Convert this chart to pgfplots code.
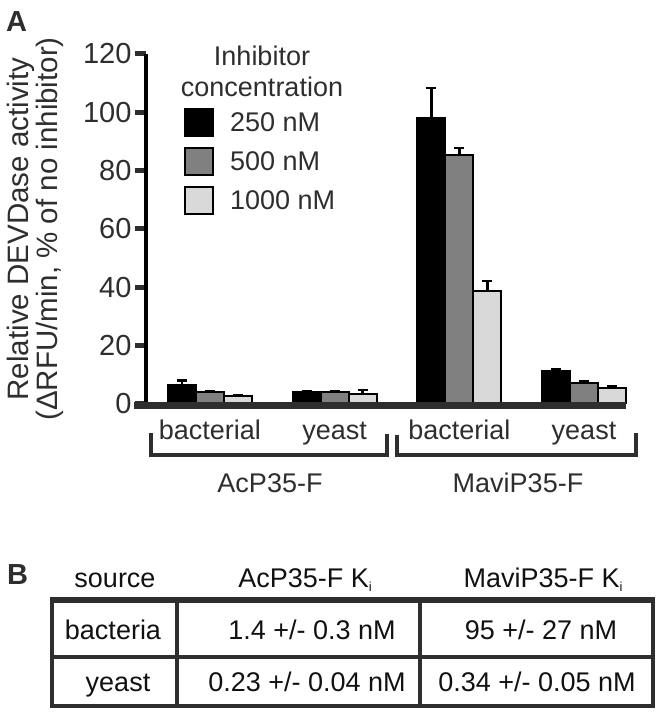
\documentclass[border=0pt]{standalone}
\usepackage{pgfplots}
\pgfplotsset{compat=1.18}
\usepackage{fontspec}
\setmainfont{Liberation Sans}
\definecolor{ink}{HTML}{2E2E2E}
\definecolor{tink}{HTML}{111111}
\definecolor{midgray}{HTML}{808080}
\definecolor{palegray}{HTML}{D9D9D9}
\newcommand{\lbl}{\fontsize{27}{32}\selectfont}
\newcommand{\sub}[1]{\raisebox{-4pt}{\fontsize{13}{13}\selectfont #1}}
\pgfplotsset{
    ebar/.style={forget plot, error bars/.cd, y dir=plus, y explicit,
        error mark=|,
        error bar style={line width=2.5pt, black},
        error mark options={line width=2.5pt, mark size=5pt, black}},
}

\begin{document}
\begin{tikzpicture}[x=1pt,y=1pt,font=\lbl]
\useasboundingbox (0,0) rectangle (661,716);

% panel A
\node[anchor=base west, inner sep=0pt, text=ink, font=\fontsize{29}{32}\selectfont\bfseries] at (6,684) {A};

\begin{axis}[
    at={(146pt,312pt)}, anchor=south west,
    scale only axis, width=482pt, height=350pt,
    xmin=-0.513, xmax=3.353, ymin=0, ymax=120,
    ybar=0pt, bar width=28pt,
    axis x line*=bottom, axis y line*=left,
    x axis line style={draw=none},
    y axis line style={line width=4.5pt, black},
    xtick={0,1,2,3},
    xticklabels={bacterial,yeast,bacterial,yeast},
    x tick style={draw=none},
    xticklabel style={anchor=base, yshift=-25pt},
    ytick={0,20,...,120},
    y tick style={line width=5pt, ink},
    major y tick style={line width=5pt, ink},
    tick align=outside, major tick length=11pt,
    tick label style={font=\lbl, text=ink},
    yticklabel style={font=\fontsize{29}{32}\selectfont},
    /pgf/number format/assume math mode=true,
    ylabel={Relative DEVDase activity\\(ΔRFU/min, \% of no inhibitor)},
    ylabel style={at={(axis description cs:-0.2293,0.5)}, anchor=center,
        align=center, font=\fontsize{29.5}{22}\selectfont, text=ink},
    legend style={at={(axis description cs:0.0788,0.846)}, anchor=north west,
        draw=none, fill=none, inner sep=0pt, row sep=10pt, column sep=16pt,
        font=\lbl, text=ink, nodes={inner sep=0pt}},
    legend cell align=left,
    legend image code/.code={\draw[#1] (0pt,-13.5pt) rectangle (28pt,13.5pt);},
]
\addplot[fill=black, draw=black, line width=2pt, bar shift=-28pt, ebar] coordinates {
    (0,6.5) +- (0,1.5)
    (1,4.2) +- (0,0.2)
    (2,98.2) +- (0,10.1)
    (3,11.4) +- (0,0.6)
};
\addplot[fill=midgray, draw=black, line width=2pt, bar shift=0pt, ebar] coordinates {
    (0,4.2) +- (0,0.3)
    (1,4.2) +- (0,0.1)
    (2,85.4) +- (0,2.4)
    (3,7.3) +- (0,0.6)
};
\addplot[fill=palegray, draw=black, line width=2pt, bar shift=28pt, ebar] coordinates {
    (0,2.8) +- (0,0.3)
    (1,3.3) +- (0,1.5)
    (2,38.8) +- (0,3.4)
    (3,5.6) +- (0,0.6)
};
\addlegendimage{fill=black, draw=black, line width=2pt}
\addlegendentry{250 nM}
\addlegendimage{fill=midgray, draw=black, line width=2pt}
\addlegendentry{500 nM}
\addlegendimage{fill=palegray, draw=black, line width=2pt}
\addlegendentry{1000 nM}
\end{axis}

% x axis bar, legend title, group brackets
\draw[line width=7pt, ink] (134,310.5) -- (626,310.5);
\node[anchor=base, text=ink] at (262,650) {Inhibitor};
\node[anchor=base, text=ink] at (262,619) {concentration};
\draw[line width=3.5pt, ink] (151,283) -- (151,261) -- (387,261) -- (387,282);
\draw[line width=3.5pt, ink] (397,281) -- (397,261) -- (636,261) -- (636,283);
\node[anchor=base, text=ink] at (270,223) {AcP35-F};
\node[anchor=base, text=ink] at (518,223) {MaviP35-F};

% panel B
\node[anchor=base west, inner sep=0pt, text=ink, font=\fontsize{29}{32}\selectfont\bfseries] at (7,131) {B};
\draw[line width=3.5pt, ink] (52,115) rectangle (653,10);
\draw[line width=6pt, ink] (50.25,116) -- (654.75,116);
\draw[line width=3.5pt, ink] (177,115) -- (177,10);
\draw[line width=3.5pt, ink] (420,115) -- (420,10);
\draw[line width=3.5pt, ink] (52,59) -- (653,59);
\begin{scope}[every node/.style={anchor=base, text=tink}]
\node at (115,128) {source};
\node at (305,128) {AcP35-F K\sub{i}};
\node at (543,128) {MaviP35-F K\sub{i}};
\node at (113,76) {bacteria};
\node at (312,76) {1.4 +/- 0.3 nM};
\node at (541,76) {95 +/- 27 nM};
\node at (118,24) {yeast};
\node at (307,24) {0.23 +/- 0.04 nM};
\node at (537,24) {0.34 +/- 0.05 nM};
\end{scope}
\end{tikzpicture}
\end{document}
